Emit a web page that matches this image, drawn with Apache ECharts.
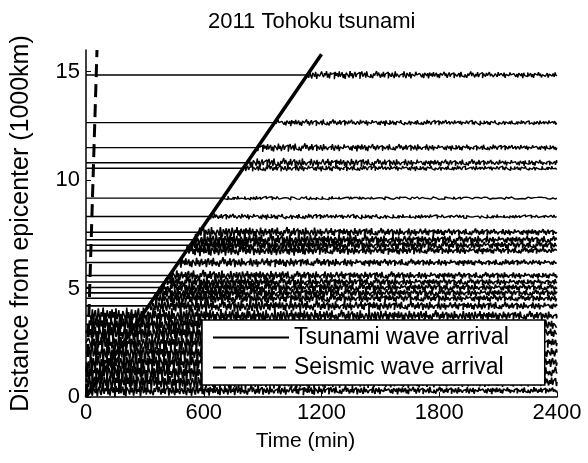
<!DOCTYPE html>
<html>
<head>
<meta charset="utf-8">
<script src="https://cdn.jsdelivr.net/npm/echarts@6/dist/echarts.min.js"></script>
<style>
  html, body { margin: 0; padding: 0; background: #fff; }
  #chart { width: 588px; height: 463px; }
</style>
</head>
<body>
<div id="chart"></div>
<script>
// station distances from the epicentre (1000 km)
const stations = [14.85, 12.65, 11.5, 10.8, 10.55, 9.17, 8.32, 7.6, 7.25, 7.0, 6.75, 6.2, 5.6, 5.3, 5.05, 4.8, 4.55, 4.2, 3.75, 3.35, 2.95, 2.5, 2.05, 1.6, 1.15, 0.7, 0.3];
// minute at which each record starts to shake
const arrivals = [1128, 961, 873, 820, 801, 696, 632, 577, 551, 532, 513, 471, 425, 403, 384, 365, 346, 319, 20, 15, 10, 10, 5, 5, 0, 0, 0];
// half height of the sea level wiggles drawn on each trace (same units)
const amplitudes = [0.2, 0.16, 0.2, 0.22, 0.16, 0.09, 0.14, 0.26, 0.3, 0.3, 0.26, 0.24, 0.26, 0.26, 0.28, 0.28, 0.28, 0.32, 0.42, 0.45, 0.45, 0.45, 0.45, 0.48, 0.48, 0.48, 0.3];
// hand-typed wiggle shape used for the records after the wave arrives
const wiggle = [0.3, -0.6, 0.9, -0.2, -0.8, 0.5, 0.1, -0.4, 0.7, -0.9, 0.2, 0.6, -0.3, -0.7, 0.8, 0.0,
  -0.5, 0.4, -0.1, 0.9, -0.6, 0.3, -0.8, 0.6, 0.1, -0.3, 0.5, -1.0, 0.7, -0.2, 0.4, -0.5,
  0.8, -0.4, 0.0, 0.6, -0.7, 0.2, -0.9, 0.5, 0.3, -0.1, -0.6, 0.9, -0.3, 0.4, -0.8, 0.1,
  0.7, -0.5, 0.2, -0.2, 0.6, -0.9, 0.3, 0.8, -0.4, -0.1, 0.5, -0.7, 0.9, -0.3, 0.1, -0.6,
  0.2, 0.5, -0.8, 0.4, -0.2, -0.5, 1.0, -0.3, 0.6, 0.0, -0.7, 0.3, -0.4, 0.8, -0.6, 0.2,
  -0.1, 0.7, -0.9, 0.4, 0.1, -0.5, 0.6, -0.2, -0.8, 0.9, -0.4, 0.3, 0.5, -0.6, 0.0, 0.4];
// how the wiggles die down, per 300 min after arrival
const decay = [1, 0.9, 0.8, 0.72, 0.65, 0.6, 0.55, 0.5, 0.45];
// arrival lines
const tsunamiLine = [[0, 0], [1200, 15.8]];
const seismicLine = [[2, 0], [56, 16]];
const xTicks = [0, 600, 1200, 1800, 2400];
const yTicks = [0, 5, 10, 15];

const chart = echarts.init(document.getElementById('chart'));
const font = 'Liberation Sans, Arial, Helvetica, sans-serif';
const step = 5;

const traces = stations.map((d, i) => {
  const ta = arrivals[i];
  const pts = [[0, d], [ta, d]];
  let k = i * 11;
  for (let t = ta + step; t <= 2400; t += step) {
    const env = decay[Math.min(decay.length - 1, Math.floor((t - ta) / 300))];
    pts.push([t, d + amplitudes[i] * env * wiggle[k % wiggle.length]]);
    k++;
  }
  pts.push([2400, d]);
  return {
    type: 'line',
    data: pts,
    showSymbol: false,
    silent: true,
    step: 'middle',
    lineStyle: { color: '#000', width: d < 8 ? 1.6 : 1.4 },
    z: 2
  };
});

chart.setOption({
  animation: false,
  backgroundColor: '#fff',
  title: {
    text: '2011 Tohoku tsunami',
    left: 203,
    top: 6,
    textStyle: { fontFamily: font, fontSize: 22, fontWeight: 'normal', color: '#000' }
  },
  grid: { left: 86, right: 31, top: 50, bottom: 66 },
  legend: {
    data: ['Tsunami wave arrival', 'Seismic wave arrival'],
    orient: 'vertical',
    left: 202,
    top: 320,
    backgroundColor: '#fff',
    borderColor: '#000',
    borderWidth: 1.5,
    borderRadius: 0,
    padding: [6, 36, 6, 10],
    itemGap: 7,
    itemWidth: 76,
    itemHeight: 18,
    itemStyle: { color: 'rgba(0,0,0,0)', borderWidth: 0, opacity: 0 },
    textStyle: { fontFamily: font, fontSize: 23, color: '#000' }
  },
  xAxis: {
    type: 'value',
    min: 0,
    max: 2400,
    interval: 600,
    name: 'Time (min)',
    nameLocation: 'middle',
    nameGap: 34,
    nameTextStyle: { fontFamily: font, fontSize: 21, color: '#000', padding: [0, 32, 0, 0] },
    splitLine: { show: false },
    axisLine: { lineStyle: { color: '#000', width: 1.5 } },
    axisTick: { inside: true, length: 5, lineStyle: { color: '#000' }, customValues: xTicks },
    axisLabel: { fontFamily: font, fontSize: 22, color: '#000', margin: 5, customValues: xTicks, formatter: v => String(v) }
  },
  yAxis: {
    type: 'value',
    min: 0,
    max: 16,
    name: 'Distance from epicenter (1000km)',
    nameLocation: 'middle',
    nameGap: 52,
    nameTextStyle: { fontFamily: font, fontSize: 25, color: '#000' },
    splitLine: { show: false },
    axisLine: { show: true, lineStyle: { color: '#000', width: 1.5 } },
    axisTick: { show: true, inside: true, length: 5, lineStyle: { color: '#000' }, customValues: yTicks },
    axisLabel: { fontFamily: font, fontSize: 22, color: '#000', margin: 6, customValues: yTicks }
  },
  series: traces.concat([
    {
      name: 'Tsunami wave arrival',
      type: 'line',
      data: tsunamiLine,
      showSymbol: false,
      symbol: 'none',
      lineStyle: { color: '#000', width: 3.5 },
      itemStyle: { color: '#000' },
      z: 3
    },
    {
      name: 'Seismic wave arrival',
      type: 'line',
      data: seismicLine,
      showSymbol: false,
      symbol: 'none',
      lineStyle: { color: '#000', width: 3, type: [13, 7] },
      itemStyle: { color: '#000' },
      z: 3
    }
  ])
});
</script>
</body>
</html>
